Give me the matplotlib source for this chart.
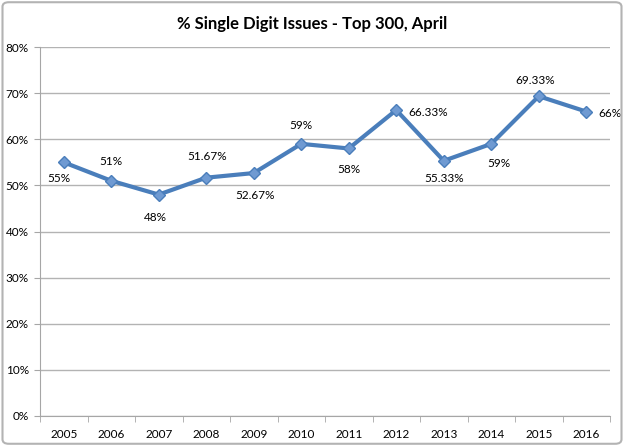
import matplotlib.pyplot as plt
import numpy as np
from matplotlib.patches import FancyBboxPatch

years = ['2005', '2006', '2007', '2008', '2009', '2010', '2011', '2012', '2013', '2014', '2015', '2016']
values = [55, 51, 48, 51.67, 52.67, 59, 58, 66.33, 55.33, 59, 69.33, 66]
labels = ['55%', '51%', '48%', '51.67%', '52.67%', '59%', '58%', '66.33%', '55.33%', '59%', '69.33%', '66%']
# where each data label sits relative to its point (pixels)
offsets = [(-5, -16), (0, 19), (-3, -23), (1, 21), (1, -22), (0, 18), (0, -21), (12, -2), (0, -18), (8, -20), (-4, 16), (12, -2)]
aligns = ['center'] * 7 + ['left', 'center', 'center', 'center', 'left']

plt.rcParams['font.family'] = ['Lato', 'DejaVu Sans']

fig = plt.figure(figsize=(6.24, 4.46), dpi=100)
fig.patches.append(FancyBboxPatch((0.004, 0.005), 0.992, 0.99, boxstyle="round,pad=0,rounding_size=0.01",
                                  transform=fig.transFigure, fill=False, edgecolor='#b3b3b3', linewidth=1.5))
ax = fig.add_axes([40 / 624, 30 / 446, 570 / 624, 369 / 446])

x = np.arange(len(years))
ax.plot(x, values, color='#4a7ebb', linewidth=3, marker='D', markersize=6,
        markerfacecolor='#6f9ad2', markeredgecolor='#4a7ebb', zorder=3)
for xi, v, lab, off, ha in zip(x, values, labels, offsets, aligns):
    ax.annotate(lab, (xi, v), xytext=off, textcoords='offset pixels', ha=ha, va='center', fontsize=8.5)

ax.set_xlim(-0.5, len(years) - 0.5)
ax.set_ylim(0, 80)
ax.set_yticks(range(0, 81, 10))
ax.set_yticklabels([f'{t}%' for t in range(0, 81, 10)], fontsize=8.5)
ax.set_xticks(x)
ax.set_xticklabels(years, fontsize=8.5)
ax.set_xticks(np.arange(-0.5, len(years), 1), minor=True)
ax.tick_params(axis='x', which='major', length=0, pad=9)
ax.tick_params(axis='x', which='minor', length=4, color='#a6a6a6')
ax.tick_params(axis='y', length=4, color='#a6a6a6', pad=4)
ax.grid(axis='y', color='#b3b3b3', linewidth=1)
ax.set_axisbelow(True)
for s in ['top', 'right']:
    ax.spines[s].set_visible(False)
ax.spines['left'].set_color('#a6a6a6')
ax.spines['bottom'].set_color('#a6a6a6')

fig.text(0.5, 0.947, '% Single Digit Issues - Top 300, April', ha='center', va='center', fontsize=12, fontweight='bold')

fig.savefig('out.png', dpi=100)
